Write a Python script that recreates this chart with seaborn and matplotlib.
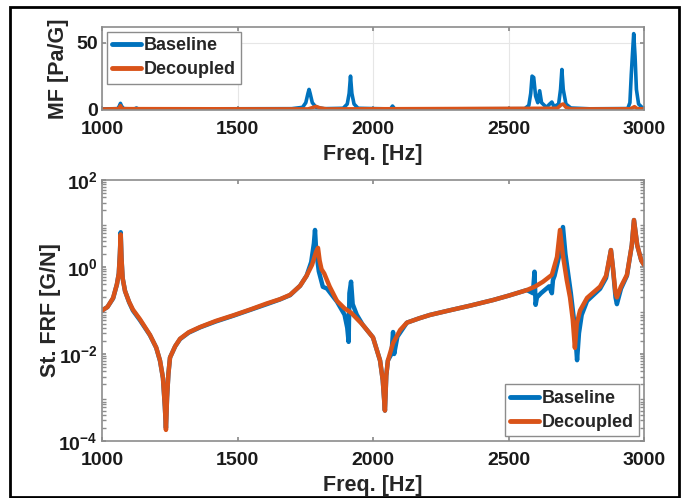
import numpy as np
import pandas as pd
import matplotlib
matplotlib.use("Agg")
import matplotlib.pyplot as plt
from matplotlib.patches import Rectangle
from matplotlib.ticker import LogLocator, NullFormatter
import seaborn as sns

# ---------------- data ----------------
# Top panel: MF [Pa/G]
mf_base_freq = [1000, 1058, 1064, 1068, 1072, 1080, 1120, 1127, 1134, 1700, 1740, 1752, 1760,
                1764, 1768, 1776, 1790, 1820, 1890, 1905, 1912, 1917, 1922, 1930, 1945, 2065,
                2072, 2080, 2560, 2575, 2582, 2587, 2593, 2600, 2608, 2615, 2622, 2640, 2652,
                2660, 2668, 2685, 2692, 2697, 2702, 2712, 2730, 2800, 2940, 2948, 2953, 2957,
                2962, 2967, 2972, 2980, 2995, 3000]
mf_base_val = [0.3, 0.5, 2.5, 4.5, 2.5, 0.5, 0.3, 1.0, 0.3, 0.5, 1.5, 5, 12,
               15, 12, 5, 1.5, 0.5, 0.8, 4, 12, 25, 12, 4, 0.8, 0.3,
               2.5, 0.3, 0.5, 3, 12, 25, 24, 10, 5, 14, 5, 1.5, 4,
               5.5, 2, 4, 15, 30, 15, 4, 1, 0.4, 0.6, 5, 26, 40,
               57, 40, 15, 4, 1, 0.8]
mf_dec_freq = [1000, 1062, 1068, 1074, 1760, 1780, 1790, 1805, 1830, 2680, 2695, 2702, 2712,
               2730, 2950, 2965, 2975, 3000]
mf_dec_val = [0.2, 0.5, 2.8, 0.5, 0.3, 1.5, 2.2, 1.0, 0.3, 0.8, 3.5, 4.0, 1.5,
              0.3, 0.4, 2.0, 0.5, 0.3]

# Bottom panel: St. FRF [G/N]
frf_dec_freq = [1000, 1020, 1041, 1055, 1062, 1066, 1069, 1072, 1076, 1085, 1100, 1114, 1140,
                1177, 1200, 1214, 1225, 1232, 1236, 1240, 1245, 1251, 1270, 1288, 1320, 1362,
                1420, 1485, 1550, 1608, 1657, 1694, 1731, 1755, 1775, 1790, 1797, 1803, 1810,
                1820, 1840, 1867, 1895, 1919, 1962, 2000, 2026, 2036, 2044, 2049, 2055, 2074,
                2100, 2125, 2170, 2210, 2280, 2358, 2443, 2500, 2568, 2598, 2627, 2660, 2679,
                2690, 2700, 2715, 2727, 2737, 2745, 2752, 2764, 2790, 2838, 2860, 2878, 2885,
                2895, 2900, 2915, 2937, 2955, 2963, 2975, 2990, 3000]
frf_dec_val = [0.1, 0.12, 0.195, 0.40, 0.71, 2.0, 5.6, 1.58, 0.56, 0.28, 0.158, 0.105, 0.063,
               0.0275, 0.0141, 0.0071, 0.0028, 0.00063, 0.00018, 0.001, 0.0035, 0.0083, 0.0151,
               0.0224, 0.0316, 0.0417, 0.0575, 0.0776, 0.107, 0.145, 0.182, 0.229, 0.37, 0.63,
               1.12, 2.24, 2.75, 1.41, 0.89, 0.71, 0.355, 0.166, 0.112, 0.089, 0.047, 0.024,
               0.0071, 0.0025, 0.0005, 0.0032, 0.0071, 0.0178, 0.0355, 0.0525, 0.066, 0.079,
               0.1, 0.129, 0.174, 0.219, 0.295, 0.355, 0.457, 0.66, 1.7, 7.1, 2.0, 0.5, 0.2,
               0.063, 0.0138, 0.05, 0.1, 0.195, 0.355, 0.63, 2.45, 1.0, 0.25, 0.2, 0.355, 0.66,
               3.16, 12.0, 3.16, 1.41, 1.12]

frf_base_freq = [1000, 1020, 1041, 1055, 1062, 1066, 1069, 1072, 1076, 1085, 1100, 1114, 1140,
                 1177, 1200, 1214, 1225, 1232, 1236, 1240, 1245, 1251, 1270, 1288, 1320, 1362,
                 1420, 1485, 1550, 1608, 1657, 1694, 1731, 1755, 1772, 1782, 1786, 1790, 1800,
                 1815, 1830, 1867, 1895, 1905, 1910, 1913, 1919, 1925, 1940, 1962, 2000, 2026,
                 2036, 2044, 2049, 2055, 2068, 2074, 2078, 2090, 2125, 2170, 2210, 2280, 2358,
                 2443, 2500, 2568, 2590, 2596, 2600, 2605, 2620, 2650, 2660, 2664, 2670, 2685,
                 2701, 2710, 2730, 2745, 2753, 2760, 2770, 2790, 2838, 2860, 2878, 2885, 2895,
                 2900, 2915, 2937, 2955, 2963, 2975, 2990, 3000]
frf_base_val = [0.1, 0.12, 0.19, 0.40, 0.71, 2.0, 6.3, 1.58, 0.56, 0.28, 0.155, 0.1, 0.06,
                0.027, 0.014, 0.007, 0.0028, 0.0006, 0.0002, 0.001, 0.0035, 0.0083, 0.015,
                0.022, 0.031, 0.041, 0.056, 0.076, 0.105, 0.14, 0.18, 0.225, 0.37, 0.63,
                1.3, 3.5, 7.1, 2.5, 0.8, 0.35, 0.32, 0.16, 0.08, 0.04, 0.019, 0.25, 0.46,
                0.14, 0.08, 0.047, 0.024, 0.0071, 0.0025, 0.0005, 0.0032, 0.0071, 0.01,
                0.032, 0.01, 0.025, 0.0525, 0.066, 0.079, 0.1, 0.129, 0.174, 0.219, 0.295,
                0.25, 0.78, 0.135, 0.2, 0.25, 0.36, 0.25, 0.5, 0.63, 1.6, 8.3, 2.0, 0.25,
                0.04, 0.0072, 0.03, 0.079, 0.166, 0.316, 0.56, 2.45, 1.0, 0.2, 0.14, 0.316,
                0.63, 3.16, 12.0, 3.16, 1.41, 1.12]

series_labels = ["Baseline", "Decoupled"]
series_colors = ["#0072BD", "#D95319"]
x_ticks = [1000, 1500, 2000, 2500, 3000]
mf_ticks = [0, 50]

# ---------------- style ----------------
sns.set_theme(style="white")
plt.rcParams['font.family'] = ['Liberation Sans', 'DejaVu Sans']
plt.rcParams['font.weight'] = 'bold'
plt.rcParams['axes.labelweight'] = 'bold'

W, H = 692, 498
fig = plt.figure(figsize=(W / 100, H / 100), dpi=100)

def frac(l, t, r, b):
    return [l / W, 1 - b / H, (r - l) / W, (b - t) / H]

ax1 = fig.add_axes(frac(102, 27, 644, 110))
ax2 = fig.add_axes(frac(102, 180, 644, 441))

spine_c = "#8c8c8c"
for ax in (ax1, ax2):
    for s in ax.spines.values():
        s.set_color(spine_c)
        s.set_linewidth(1.2)
    ax.tick_params(direction="in", length=3, color=spine_c, labelsize=14,
                   labelcolor="#1a1a1a", top=True, right=True, bottom=True, left=True,
                   which="both")
    ax.tick_params(axis="x", pad=8)
    ax.tick_params(axis="y", pad=3)

lw = 2.6
df_mf_b = pd.DataFrame({"f": mf_base_freq, "v": mf_base_val})
df_mf_d = pd.DataFrame({"f": mf_dec_freq, "v": mf_dec_val})
sns.lineplot(data=df_mf_b, x="f", y="v", ax=ax1, color=series_colors[0], lw=lw,
             label=series_labels[0], sort=False, estimator=None)
sns.lineplot(data=df_mf_d, x="f", y="v", ax=ax1, color=series_colors[1], lw=lw,
             label=series_labels[1], sort=False, estimator=None)

df_frf_b = pd.DataFrame({"f": frf_base_freq, "v": frf_base_val})
df_frf_d = pd.DataFrame({"f": frf_dec_freq, "v": frf_dec_val})
sns.lineplot(data=df_frf_b, x="f", y="v", ax=ax2, color=series_colors[0], lw=lw + 0.6,
             label=series_labels[0], sort=False, estimator=None)
sns.lineplot(data=df_frf_d, x="f", y="v", ax=ax2, color=series_colors[1], lw=lw + 0.6,
             label=series_labels[1], sort=False, estimator=None)

legend_kw = dict(fontsize=13, handlelength=1.6, handletextpad=0.15,
                 borderpad=0.3, labelspacing=0.4, fancybox=False, framealpha=1,
                 edgecolor="#8c8c8c", borderaxespad=0.25)

# top axes
ax1.set_xlim(1000, 3000)
ax1.set_ylim(-0.5, 62)
ax1.set_xticks(x_ticks)
ax1.set_yticks(mf_ticks)
ax1.grid(True, color="#e6e6e6", lw=0.8)
ax1.set_axisbelow(True)
ax1.set_xlabel("Freq. [Hz]", fontsize=15.5, fontweight="bold", labelpad=4)
ax1.set_ylabel("MF [Pa/G]", fontsize=15.5, fontweight="bold")
ax1.yaxis.set_label_coords(-0.060, 0.5)
leg1 = ax1.legend(loc="upper left", **legend_kw)
leg1.get_frame().set_linewidth(1.0)
for h in leg1.get_lines():
    h.set_linewidth(3.5)

# bottom axes
ax2.set_yscale("log")
ax2.set_xlim(1000, 3000)
ax2.set_ylim(1e-4, 1e2)
ax2.set_xticks(x_ticks)
ax2.set_yticks([1e-4, 1e-2, 1e0, 1e2])
ax2.yaxis.set_minor_locator(LogLocator(base=10, subs=np.arange(2, 10), numticks=20))
ax2.yaxis.set_minor_formatter(NullFormatter())
ax2.set_xlabel("Freq. [Hz]", fontsize=15.5, fontweight="bold", labelpad=4)
ax2.set_ylabel("St. FRF [G/N]", fontsize=15.5, fontweight="bold")
ax2.yaxis.set_label_coords(-0.076, 0.5)
leg2 = ax2.legend(loc="lower right", **legend_kw)
leg2.get_frame().set_linewidth(1.0)
for h in leg2.get_lines():
    h.set_linewidth(3.5)

for ax in (ax1, ax2):
    for lab in ax.get_xticklabels() + ax.get_yticklabels():
        lab.set_fontweight("bold")

# outer black frame
fig.patches.append(Rectangle((10 / W, 1 - 497 / H), 669 / W, 490 / H,
                             transform=fig.transFigure, fill=False, ec="black", lw=2))

fig.savefig("out.png", dpi=100)
